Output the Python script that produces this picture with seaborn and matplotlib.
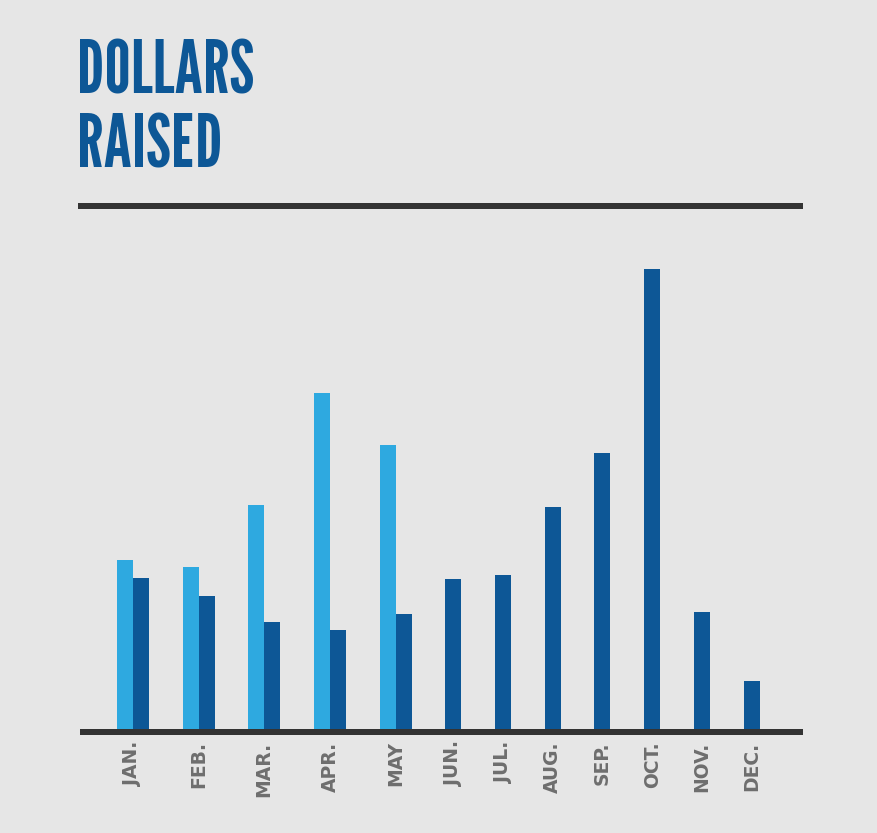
import pandas as pd
import seaborn as sns
import matplotlib.pyplot as plt

months = ["JAN.", "FEB.", "MAR.", "APR.", "MAY", "JUN.", "JUL.", "AUG.", "SEP.", "OCT.", "NOV.", "DEC."]
last_year = [169, 162, 224, 336, 284, None, None, None, None, None, None, None]
this_year = [151, 133, 107, 99, 115, 150, 154, 222, 276, 460, 117, 48]

bg = "#E6E6E6"
light = "#2EA9E0"
dark = "#0D5796"
line_col = "#333333"

sns.set_theme(style="white")
plt.rcParams["font.family"] = ["DejaVu Sans"]

# slot width depends on how many bars a month has
bw = 16
gap = 33.7
rows = []
centers = []
pos = 100
for i, m in enumerate(months):
    n = 2 if last_year[i] is not None else 1
    slot = n * bw + gap
    c = pos + slot / 2
    centers.append(c)
    pos += slot
    if n == 2:
        rows.append({"x": c - bw / 2, "value": last_year[i], "series": "Last year"})
        rows.append({"x": c + bw / 2, "value": this_year[i], "series": "This year"})
    else:
        rows.append({"x": c, "value": this_year[i], "series": "This year"})
df = pd.DataFrame(rows)

fig = plt.figure(figsize=(8.78, 8.33), dpi=100, facecolor=bg)
ax = fig.add_axes([80 / 878, 104 / 833, 723 / 878, 523 / 833])
ax.set_facecolor(bg)

sns.barplot(data=df, x="x", y="value", hue="series", native_scale=True,
            dodge=False, width=1, palette={"Last year": light, "This year": dark},
            errorbar=None, legend=False, saturation=1, linewidth=0, ax=ax)

ax.set_xlim(80, 803)
ax.set_ylim(0, 523)
for s in ax.spines.values():
    s.set_visible(False)
ax.plot([80, 803], [-3, -3], color=line_col, lw=4.32, clip_on=False, solid_capstyle="butt")
ax.plot([78, 803], [523, 523], color=line_col, lw=4.32, clip_on=False, solid_capstyle="butt")

ax.set_xticks(centers, months, rotation=90)
ax.tick_params(axis="x", length=0, pad=9, labelsize=13.5, colors="#6E6E6E")
for t in ax.get_xticklabels():
    t.set_fontweight("bold")
ax.set_yticks([])
ax.set_xlabel("")
ax.set_ylabel("")

title_font = dict(color=dark, ha="left", va="baseline", fontsize=53, family="League Gothic")
fig.text(77 / 878, 1 - 94 / 833, "DOLLARS", **title_font)
fig.text(77 / 878, 1 - 167 / 833, "RAISED", **title_font)

fig.savefig("out.png", dpi=100, facecolor=bg)
